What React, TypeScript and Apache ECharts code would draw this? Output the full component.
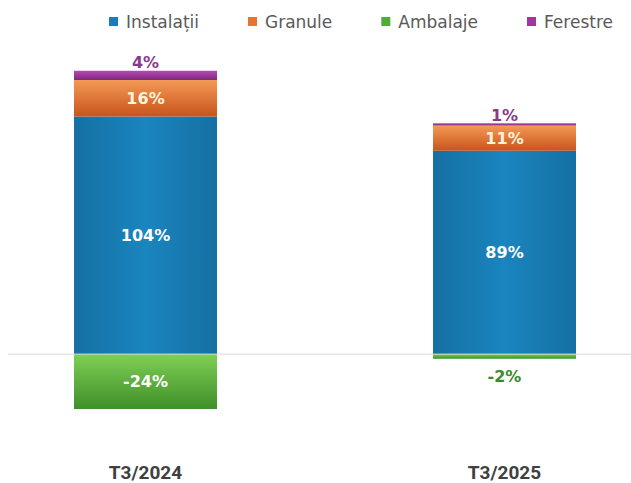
import React, { useEffect, useRef } from "react";
import * as echarts from "echarts";

const categories = ["T3/2024", "T3/2025"];
const instalatii = [104, 89];
const granule = [16, 11];
const ambalaje = [-24, -2];
const ferestre = [4, 1];

const lin = (c1: string, c2: string) =>
  new echarts.graphic.LinearGradient(0, 0, 0, 1, [
    { offset: 0, color: c1 },
    { offset: 1, color: c2 },
  ]);

const blue = new echarts.graphic.LinearGradient(0, 0, 1, 0, [
  { offset: 0, color: "#1570a3" },
  { offset: 0.5, color: "#1a85be" },
  { offset: 1, color: "#1570a3" },
]);

const AXFONT = "Roboto";
const LBFONT = "DejaVu Sans";

export default function App() {
  const ref = useRef<HTMLDivElement>(null);
  useEffect(() => {
    document.body.style.margin = "0";
    const chart = echarts.init(ref.current!, undefined, { renderer: "svg" });
    const pct = (p: any) => `${p.value}%`;
    const lbl = {
      show: true,
      position: "inside",
      formatter: pct,
      fontSize: 16,
      fontWeight: "bold",
      fontFamily: LBFONT,
    };
    chart.setOption({
      animation: false,
      backgroundColor: "#ffffff",
      legend: {
        top: 8,
        right: 13,
        icon: "rect",
        itemWidth: 9,
        itemHeight: 9,
        itemGap: 49,
        textStyle: {
          color: "#595959",
          fontSize: 17,
          fontFamily: LBFONT,
          padding: [0, 0, 0, 3],
        },
        data: [
          { name: "Instalații", itemStyle: { color: "#1a7db5" } },
          { name: "Granule", itemStyle: { color: "#e8742f" } },
          { name: "Ambalaje", itemStyle: { color: "#4eac38" } },
          { name: "Ferestre", itemStyle: { color: "#a0379f" } },
        ],
      },
      grid: { left: 145.5, right: 126.5, top: 34.2, bottom: 37.5 },
      xAxis: {
        type: "category",
        data: categories,
        boundaryGap: false,
        axisLine: { show: false },
        axisTick: { show: false },
        axisLabel: {
          margin: 17,
          lineHeight: 19,
          color: "#404040",
          fontSize: 19,
          fontWeight: "bold",
          fontFamily: AXFONT,
        },
      },
      yAxis: {
        type: "value",
        min: -40,
        max: 140,
        show: false,
        splitLine: { show: false },
      },
      series: [
        {
          name: "Instalații",
          type: "bar",
          stack: "s",
          barWidth: 143,
          data: instalatii,
          itemStyle: { color: blue },
          label: { ...lbl, color: "#ffffff" },
        },
        {
          name: "Granule",
          type: "bar",
          stack: "s",
          barWidth: 143,
          data: granule,
          itemStyle: { color: lin("#f39a55", "#c9541c") },
          label: { ...lbl, color: "#fff4dc" },
        },
        {
          name: "Ambalaje",
          type: "bar",
          stack: "s",
          barWidth: 143,
          data: ambalaje.map((v, i) =>
            i === 1
              ? {
                  value: v,
                  label: { position: "bottom", color: "#3b8a2e", distance: 10 },
                }
              : v
          ),
          itemStyle: { color: lin("#7fcf55", "#3f8f2a") },
          label: { ...lbl, color: "#ffffff" },
        },
        {
          name: "Ferestre",
          type: "bar",
          stack: "s",
          barWidth: 143,
          data: ferestre,
          itemStyle: { color: lin("#b848b6", "#7d2a7c") },
          label: { ...lbl, position: "top", distance: 0, color: "#8a3a8c" },
        },
      ],
    });
    const y0 = chart.convertToPixel({ yAxisIndex: 0 }, 0) as number;
    chart.setOption({
      graphic: [
        {
          type: "line",
          z: 100,
          silent: true,
          shape: { x1: 8, y1: y0, x2: 631, y2: y0 },
          style: { stroke: "#d9d9d9", lineWidth: 1 },
        },
      ],
    });
    return () => chart.dispose();
  }, []);
  return <div ref={ref} style={{ width: 631, height: 483 }} />;
}
